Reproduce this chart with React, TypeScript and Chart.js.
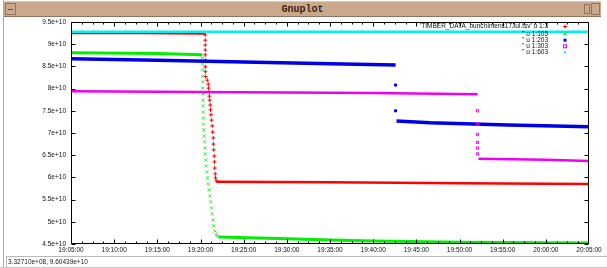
import React, { useEffect, useRef } from 'react';
import { Chart, registerables } from 'chart.js';

Chart.register(...registerables);

// ---- text ----
const windowTitle = 'Gnuplot';
const statusText = '3.32710e+08, 9.60439e+10';
const xTickLabels = ['19:05:00', '19:10:00', '19:15:00', '19:20:00', '19:25:00', '19:30:00', '19:35:00', '19:40:00', '19:45:00', '19:50:00', '19:55:00', '20:00:00', '20:05:00'];
const yTickLabels = ['4.5e+10', '5e+10', '5.5e+10', '6e+10', '6.5e+10', '7e+10', '7.5e+10', '8e+10', '8.5e+10', '9e+10', '9.5e+10'];
const legendLabels = ["'TIMBER_DATA_bunchIntens17Jul.tsv' u 1:3", "'' u 1:105", "'' u 1:203", "'' u 1:303", "'' u 1:603"];

// ---- data: [minutes after 19:05:00, intensity in units of 1e10] ----
const red13Before = [[0, 9.25], [8, 9.25], [15.5, 9.24]];
const red13Drop = [[15.55, 9.21], [15.55, 9.09], [15.55, 8.98], [15.55, 8.87], [15.55, 8.76], [15.55, 8.64], [15.56, 8.49], [15.57, 8.38], [15.6, 8.27], [15.78, 8.19], [15.9, 8.10], [15.93, 8.01], [16.0, 7.92], [16.03, 7.83], [16.07, 7.74], [16.13, 7.63], [16.16, 7.52], [16.21, 7.41], [16.28, 7.29], [16.36, 7.16], [16.42, 7.02], [16.48, 6.89], [16.5, 6.75], [16.53, 6.62], [16.6, 6.48], [16.62, 6.35], [16.65, 6.21], [16.71, 6.08], [16.74, 5.99], [16.83, 5.92]];
const red13After = [[16.9, 5.90], [30, 5.89], [45, 5.87], [60, 5.85]];

const green105Before = [[0, 8.81], [10, 8.79], [15.2, 8.76]];
const green105Drop = [[15.21, 8.69], [15.23, 8.55], [15.24, 8.42], [15.25, 8.28], [15.26, 8.15], [15.27, 8.01], [15.28, 7.88], [15.3, 7.74], [15.31, 7.61], [15.32, 7.47], [15.33, 7.34], [15.35, 7.20], [15.39, 7.07], [15.43, 6.93], [15.47, 6.80], [15.52, 6.66], [15.55, 6.53], [15.61, 6.39], [15.67, 6.26], [15.72, 6.12], [15.81, 5.99], [15.9, 5.85], [15.99, 5.72], [16.08, 5.58], [16.18, 5.45], [16.28, 5.31], [16.36, 5.18], [16.45, 5.04], [16.55, 4.91], [16.66, 4.79], [16.83, 4.71], [17.0, 4.67]];
const green105After = [[17.1, 4.66], [25, 4.62], [30, 4.59], [35, 4.57], [45, 4.54], [60, 4.52]];

const blue203Before = [[0, 8.67], [10, 8.64], [20, 8.60], [30, 8.56], [37.6, 8.53]];
const blue203Drop = [[37.6, 8.08], [37.6, 7.50]];
const blue203After = [[37.7, 7.27], [41.6, 7.23], [50.6, 7.18], [60, 7.14]];

const magenta303Before = [[0, 7.94], [20, 7.92], [35, 7.90], [47.1, 7.87]];
const magenta303Drop = [[47.1, 7.50], [47.1, 7.20], [47.1, 6.97], [47.1, 6.79], [47.1, 6.66], [47.1, 6.53]];
const magenta303After = [[47.2, 6.42], [55, 6.40], [60, 6.37]];

const cyan603 = [[0, 9.28], [60, 9.28]];

const RED = '#ff0000';
const GREEN = '#00ee00';
const BLUE = '#0000e8';
const MAGENTA = '#f000f0';
const CYAN = '#00f0f0';
const FONT = '"Liberation Sans", Arial, sans-serif';

const pts = (a: number[][]) => a.map(([x, y]) => ({ x, y }));
const line = (a: number[][], color: string, w: number) => ({
  data: pts(a), showLine: true, borderColor: color, backgroundColor: color,
  borderWidth: w, pointRadius: 0, tension: 0, fill: false,
});
const marks = (a: number[][], color: string, style: string, r: number, filled: boolean) => ({
  data: pts(a), showLine: false, borderColor: color,
  backgroundColor: filled ? color : 'rgba(0,0,0,0)', pointStyle: style,
  pointRadius: r, borderWidth: 1,
});

const gnuFrame = {
  id: 'gnuFrame',
  afterDraw(chart: any) {
    const { ctx, chartArea: a, scales } = chart;
    const x = scales.x, y = scales.y;
    ctx.save();
    ctx.strokeStyle = '#000';
    ctx.lineWidth = 1;
    const L = Math.round(a.left) + 0.5, R = Math.round(a.right) - 0.5;
    const T = Math.round(a.top) + 0.5, B = Math.round(a.bottom) - 0.5;
    ctx.beginPath();
    ctx.rect(L, T, R - L, B - T);
    y.ticks.forEach((t: any) => {
      const py = Math.round(y.getPixelForValue(t.value)) + 0.5;
      ctx.moveTo(L, py); ctx.lineTo(L + 4, py);
      ctx.moveTo(R, py); ctx.lineTo(R - 4, py);
    });
    const nMinor = 4;
    for (let i = 0; i < x.ticks.length - 1; i++) {
      const v0 = x.ticks[i].value, v1 = x.ticks[i + 1].value;
      for (let k = 0; k < nMinor; k++) {
        const v = v0 + (v1 - v0) * k / nMinor;
        const px = Math.round(x.getPixelForValue(v)) + 0.5;
        const len = k === 0 ? 4 : 2;
        ctx.moveTo(px, B); ctx.lineTo(px, B - len);
        ctx.moveTo(px, T); ctx.lineTo(px, T + len);
      }
    }
    ctx.stroke();

    // key
    const colors = [RED, GREEN, BLUE, MAGENTA, CYAN];
    ctx.font = `6.5px ${FONT}`;
    ctx.textAlign = 'right';
    ctx.textBaseline = 'middle';
    const tx = a.right - 41, mx = a.right - 24;
    legendLabels.forEach((lab, i) => {
      const ly = a.top + 4.5 + i * 6.1 + (i > 0 ? 1.5 : 0);
      ctx.fillStyle = '#111';
      ctx.fillText(lab, tx, ly);
      ctx.strokeStyle = colors[i];
      ctx.fillStyle = colors[i];
      ctx.beginPath();
      if (i === 0) {
        ctx.moveTo(mx - 2, ly); ctx.lineTo(mx + 2, ly);
        ctx.moveTo(mx, ly - 2); ctx.lineTo(mx, ly + 2);
        ctx.stroke();
      } else if (i === 1) {
        ctx.moveTo(mx - 1.5, ly - 1.5); ctx.lineTo(mx + 1.5, ly + 1.5);
        ctx.moveTo(mx - 1.5, ly + 1.5); ctx.lineTo(mx + 1.5, ly - 1.5);
        ctx.stroke();
      } else if (i === 2) {
        ctx.fillRect(mx - 1.5, ly - 1.5, 3, 3);
      } else if (i === 3) {
        ctx.strokeRect(mx - 1.5, ly - 1.5, 3, 3);
      } else {
        ctx.fillRect(mx - 1, ly - 1, 2, 2);
      }
    });
    ctx.restore();
  },
};

export default function App() {
  const ref = useRef<HTMLCanvasElement>(null);
  useEffect(() => {
    const datasets: any[] = [
      line(red13Before, RED, 2.5), marks(red13Drop, RED, 'cross', 2, false), line(red13After, RED, 2.5),
      line(green105Before, GREEN, 3), marks(green105Drop, '#3ee83e', 'crossRot', 2.2, false), line(green105After, GREEN, 3),
      line(blue203Before, BLUE, 3.5), marks(blue203Drop, BLUE, 'rect', 1.5, true), line(blue203After, BLUE, 3.5),
      line(magenta303Before, MAGENTA, 2.5), marks(magenta303Drop, MAGENTA, 'rect', 1.6, false), line(magenta303After, MAGENTA, 2.5),
      line(cyan603, CYAN, 2.5),
    ];
    datasets.forEach((d, i) => { d.order = datasets.length - i; });
    const chart = new Chart(ref.current as HTMLCanvasElement, {
      type: 'scatter',
      data: { datasets },
      options: {
        animation: false,
        responsive: false,
        devicePixelRatio: 1,
        events: [],
        layout: { padding: { top: 22, right: 18, left: 0, bottom: 0 } },
        plugins: { legend: { display: false }, tooltip: { enabled: false } },
        scales: {
          x: {
            type: 'linear', min: 0, max: 60,
            grid: { display: false, drawTicks: false },
            border: { display: false },
            ticks: {
              stepSize: 5, autoSkip: false, maxRotation: 0, minRotation: 0, padding: 2,
              color: '#111', font: { family: FONT, size: 6.5 },
              callback: (_v: any, i: number) => xTickLabels[i],
            },
            afterFit: (s: any) => { s.height = 24; },
          },
          y: {
            type: 'linear', min: 4.5, max: 9.5,
            grid: { display: false, drawTicks: false },
            border: { display: false },
            ticks: {
              stepSize: 0.5, autoSkip: false, padding: 5,
              color: '#111', font: { family: FONT, size: 6.5 },
              callback: (_v: any, i: number) => yTickLabels[i],
            },
            afterFit: (s: any) => { s.width = 71; },
          },
        },
      },
      plugins: [gnuFrame],
    } as any);
    return () => chart.destroy();
  }, []);

  return (
    <div style={{ position: 'fixed', left: 0, top: 0, width: 607, height: 268, background: '#fff', overflow: 'hidden' }}>
      <div style={{ position: 'absolute', left: 3, top: 0, width: 1, height: 268, background: '#aaa' }} />
      <div style={{ position: 'absolute', left: 4, top: 1, width: 597, height: 16, background: '#caa88b', borderTop: '1px solid #e0c8b0', borderBottom: '1px solid #8e7561', boxSizing: 'border-box' }}>
        <div style={{ position: 'absolute', left: 1, top: 1, width: 11, height: 12, border: '1px solid #8e7561', boxSizing: 'border-box' }}>
          <div style={{ position: 'absolute', left: 2, top: 5, width: 5, height: 1, background: '#6a5040' }} />
        </div>
        <div style={{ position: 'absolute', left: 0, right: 0, top: 1, textAlign: 'center', font: `bold 10px "Liberation Mono", monospace`, color: '#3a2618', lineHeight: '13px' }}>{windowTitle}</div>
        <div style={{ position: 'absolute', right: 11, top: 2, width: 6, height: 10, border: '1px solid #8e7561', boxSizing: 'border-box' }} />
        <div style={{ position: 'absolute', right: 1, top: 1, width: 9, height: 12, border: '1px solid #8e7561', boxSizing: 'border-box' }} />
      </div>
      <canvas ref={ref} width={607} height={268} style={{ position: 'absolute', left: 0, top: 0, width: 607, height: 268 }} />
      <div style={{ position: 'absolute', left: 6, top: 256, width: 601, height: 1, background: '#b8b8b8' }} />
      <div style={{ position: 'absolute', left: 6, top: 256, width: 1, height: 12, background: '#b8b8b8' }} />
      <div style={{ position: 'absolute', left: 8, top: 258, font: `6.5px ${FONT}`, color: '#222', whiteSpace: 'nowrap', lineHeight: '8px' }}>{statusText}</div>
      <div style={{ position: 'absolute', left: 0, top: 267, width: 607, height: 1, background: '#c8c8c8' }} />
    </div>
  );
}
